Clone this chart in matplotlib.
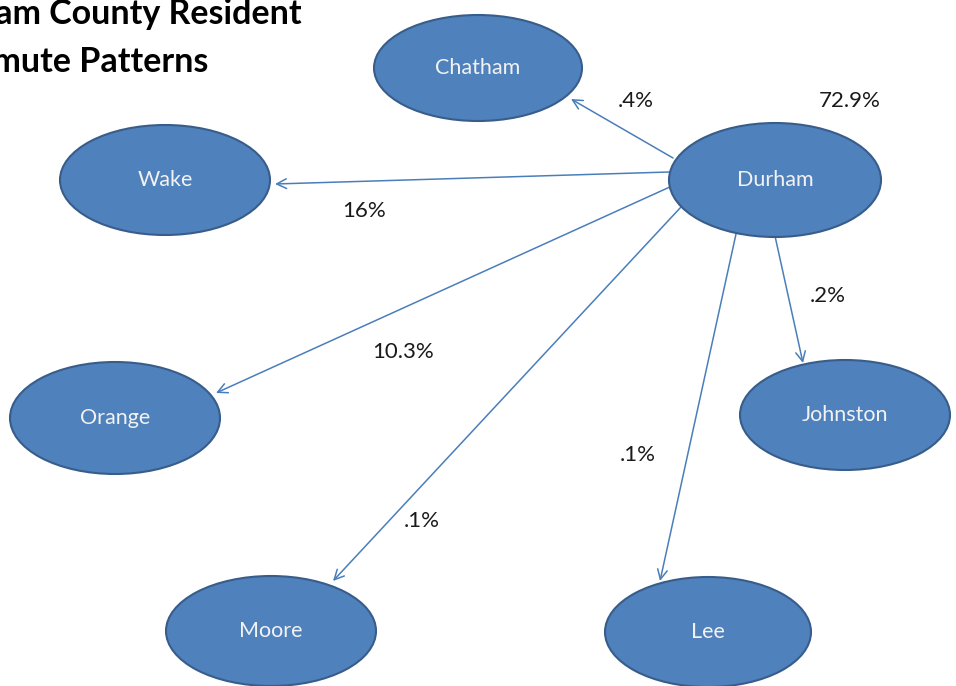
import matplotlib
matplotlib.use("Agg")
import matplotlib.pyplot as plt
from matplotlib.patches import Ellipse

# ---- data ----
origin = "Durham"
destinations = ["Chatham", "Wake", "Orange", "Moore", "Lee", "Johnston"]
shares = [".4%", "16%", "10.3%", ".1%", ".1%", ".2%"]
stay_share = "72.9%"
title_lines = ["Durham County Resident", "Commute Patterns"]

# ---- layout (pixel coordinates) ----
W, H = 956, 686
nodes = {
    "Durham":   (775, 180, 212, 114),
    "Chatham":  (478, 68, 208, 106),
    "Wake":     (165, 180, 210, 110),
    "Orange":   (115, 418, 210, 112),
    "Johnston": (845, 415, 210, 110),
    "Moore":    (271, 631, 210, 110),
    "Lee":      (708, 632, 206, 110),
}
arrows = {
    "Chatham":  ((673, 158), (571, 99)),
    "Wake":     ((669, 172), (275, 184)),
    "Orange":   ((672, 186), (216, 393)),
    "Moore":    ((681, 207), (333, 581)),
    "Lee":      ((736, 234), (660, 581)),
    "Johnston": ((775, 236), (803, 363)),
}
label_pos = {
    "Chatham":  (636, 101),
    "Wake":     (364, 211),
    "Orange":   (403, 352),
    "Moore":    (422, 521),
    "Lee":      (638, 455),
    "Johnston": (828, 296),
}
stay_pos = (850, 101)

fill = "#4f81bd"
edge = "#385d8a"
arrow_col = "#4a7ebb"
font = ["Lato", "DejaVu Sans"]

fig = plt.figure(figsize=(W / 100, H / 100), dpi=100)
ax = fig.add_axes([0, 0, 1, 1])
ax.set_xlim(0, W)
ax.set_ylim(H, 0)
ax.axis("off")

for name, (cx, cy, w, h) in nodes.items():
    ax.add_patch(Ellipse((cx, cy), w, h, facecolor=fill, edgecolor=edge, lw=1.5, zorder=2))
    ax.text(cx, cy, name, color="#f2f2f2", fontsize=15.5, ha="center", va="center",
            family=font, zorder=3)

for dest, share in zip(destinations, shares):
    (x0, y0), (x1, y1) = arrows[dest]
    ax.annotate("", xy=(x1, y1), xytext=(x0, y0),
                arrowprops=dict(arrowstyle="->,head_length=0.7,head_width=0.35",
                                color=arrow_col, lw=1.1, shrinkA=0, shrinkB=0),
                zorder=1)
    lx, ly = label_pos[dest]
    ax.text(lx, ly, share, fontsize=16, ha="center", va="center", color="#1a1a1a", family=font)

ax.text(stay_pos[0], stay_pos[1], stay_share, fontsize=16, ha="center", va="center",
        color="#1a1a1a", family=font)

ax.text(302, 14, title_lines[0], fontsize=24.5, fontweight="bold", ha="right", va="center",
        family=font, color="black")
ax.text(208, 62, title_lines[1], fontsize=24.5, fontweight="bold", ha="right", va="center",
        family=font, color="black")

fig.savefig("out.png", dpi=100, facecolor="white")
